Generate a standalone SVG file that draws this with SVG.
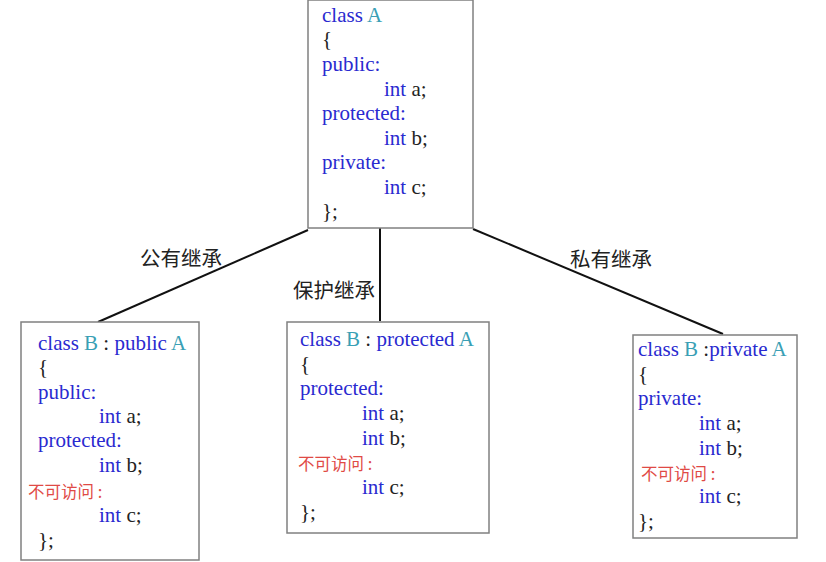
<svg xmlns="http://www.w3.org/2000/svg" width="826" height="562" viewBox="0 0 826 562">
<style>
.box{fill:#fff;stroke:#808080;stroke-width:1.5}
.code{font-family:"Liberation Serif","Times New Roman",serif;font-size:21px;fill:#222}
.kw{fill:#2a2ad0}
.nm{fill:#3a9fb5}
.na{font-family:"Noto Sans CJK SC","Noto Sans",sans-serif;font-size:16.5px;fill:#e04a45}
.lbl{font-family:"Noto Sans CJK SC","Noto Sans",sans-serif;font-size:20.5px;fill:#222}
.edge{stroke:#111;stroke-width:2;fill:none}
</style>
<rect width="826" height="562" fill="#fff"/>
<g id="connectors">
<line class="edge" x1="308" y1="230" x2="98" y2="322"/>
<line class="edge" x1="380" y1="228" x2="380" y2="321"/>
<line class="edge" x1="473" y1="229" x2="723" y2="334"/>
<text class="lbl" x="140" y="266">公有继承</text>
<text class="lbl" x="293" y="298">保护继承</text>
<text class="lbl" x="570" y="267">私有继承</text>
</g>
<g id="classA">
<rect class="box" x="308" y="0" width="165" height="228"/>
<text class="code" x="322" y="22"><tspan class="kw">class</tspan> <tspan class="nm">A</tspan></text>
<text class="code" x="322" y="46">{</text>
<text class="code kw" x="322" y="71">public:</text>
<text class="code" x="384" y="96"><tspan class="kw">int</tspan> a;</text>
<text class="code kw" x="322" y="120">protected:</text>
<text class="code" x="384" y="145"><tspan class="kw">int</tspan> b;</text>
<text class="code kw" x="322" y="169">private:</text>
<text class="code" x="384" y="194"><tspan class="kw">int</tspan> c;</text>
<text class="code" x="322" y="218">};</text>
</g>
<g id="classB_public">
<rect class="box" x="21" y="322" width="178" height="238"/>
<text class="code" x="38" y="350"><tspan class="kw">class</tspan> <tspan class="nm">B</tspan> : <tspan class="kw">public</tspan> <tspan class="nm">A</tspan></text>
<text class="code" x="38" y="374">{</text>
<text class="code kw" x="38" y="399">public:</text>
<text class="code" x="99" y="423"><tspan class="kw">int</tspan> a;</text>
<text class="code kw" x="38" y="447">protected:</text>
<text class="code" x="99" y="472"><tspan class="kw">int</tspan> b;</text>
<text class="na" x="28" y="498">不可访问 :</text>
<text class="code" x="99" y="522"><tspan class="kw">int</tspan> c;</text>
<text class="code" x="38" y="547">};</text>
</g>
<g id="classB_protected">
<rect class="box" x="287" y="322" width="202" height="211"/>
<text class="code" x="300" y="346"><tspan class="kw">class</tspan> <tspan class="nm">B</tspan> : <tspan class="kw">protected</tspan> <tspan class="nm">A</tspan></text>
<text class="code" x="300" y="371">{</text>
<text class="code kw" x="300" y="395">protected:</text>
<text class="code" x="362" y="420"><tspan class="kw">int</tspan> a;</text>
<text class="code" x="362" y="445"><tspan class="kw">int</tspan> b;</text>
<text class="na" x="298" y="470">不可访问 :</text>
<text class="code" x="362" y="494"><tspan class="kw">int</tspan> c;</text>
<text class="code" x="300" y="519">};</text>
</g>
<g id="classB_private">
<rect class="box" x="633" y="335" width="164" height="203"/>
<text class="code" x="638" y="356"><tspan class="kw">class</tspan> <tspan class="nm">B</tspan> :<tspan class="kw">private</tspan> <tspan class="nm">A</tspan></text>
<text class="code" x="638" y="381">{</text>
<text class="code kw" x="638" y="405">private:</text>
<text class="code" x="699" y="430"><tspan class="kw">int</tspan> a;</text>
<text class="code" x="699" y="455"><tspan class="kw">int</tspan> b;</text>
<text class="na" x="641" y="480">不可访问 :</text>
<text class="code" x="699" y="503"><tspan class="kw">int</tspan> c;</text>
<text class="code" x="638" y="528">};</text>
</g>
</svg>
